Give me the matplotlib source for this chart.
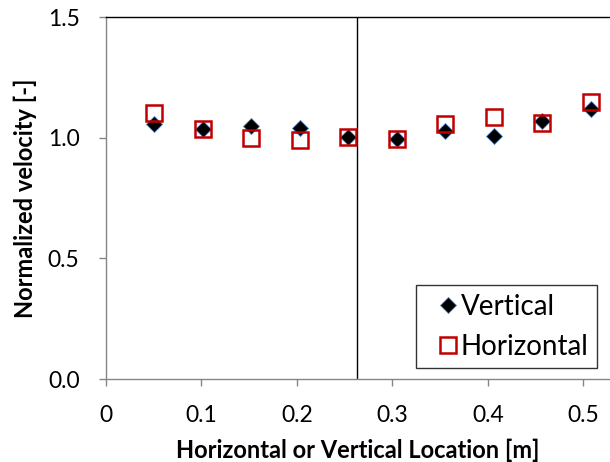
import numpy as np
import matplotlib.pyplot as plt

plt.rcParams['font.family'] = ['Lato', 'DejaVu Sans']

# measurement positions [m]
location = [0.0508, 0.1016, 0.1524, 0.2032, 0.254, 0.3048, 0.3556, 0.4064, 0.4572, 0.508]
# normalized velocities
vertical = [1.057, 1.035, 1.048, 1.039, 1.003, 0.996, 1.029, 1.008, 1.070, 1.118]
horizontal = [1.104, 1.035, 0.997, 0.989, 1.003, 0.996, 1.055, 1.087, 1.060, 1.149]
center_line = 0.263

xticks = [0, 0.1, 0.2, 0.3, 0.4, 0.5]
xticklabels = ['0', '0.1', '0.2', '0.3', '0.4', '0.5']
yticks = [0.0, 0.5, 1.0, 1.5]
yticklabels = ['0.0', '0.5', '1.0', '1.5']

fig = plt.figure(figsize=(6.10, 4.62), dpi=100)
ax = fig.add_axes([106 / 610, 1 - 379 / 462, 1 - 106 / 610, (379 - 17) / 462])

ax.axvline(center_line, color='black', lw=1.0, zorder=1)

ax.plot(location, vertical, linestyle='none', marker='D', markersize=8.5,
        markerfacecolor='black', markeredgecolor='#4f81bd', markeredgewidth=0.6,
        label='Vertical', zorder=3)
ax.plot(location, horizontal, linestyle='none', marker='s', markersize=11.5,
        markerfacecolor='none', markeredgecolor='#c00000', markeredgewidth=1.8,
        label='Horizontal', zorder=4)

ax.set_xlim(0, 0.528)
ax.set_ylim(0, 1.5)
ax.set_xticks(xticks)
ax.set_xticklabels(xticklabels)
ax.set_yticks(yticks)
ax.set_yticklabels(yticklabels)

gray = '#868686'
for s in ['left', 'bottom']:
    ax.spines[s].set_color(gray)
    ax.spines[s].set_linewidth(1.0)
ax.spines['top'].set_color('black')
ax.spines['top'].set_linewidth(1.0)
ax.spines['right'].set_visible(False)
ax.tick_params(axis='both', direction='out', color=gray, length=5, width=1.0,
               labelsize=16.5)
ax.tick_params(axis='x', pad=14)
ax.tick_params(axis='y', pad=14)

ax.set_xlabel('Horizontal or Vertical Location [m]', fontsize=17, fontweight='bold', labelpad=9)
ax.set_ylabel('Normalized velocity [-]', fontsize=17, fontweight='bold', labelpad=8)

leg = ax.legend(loc='lower right', bbox_to_anchor=((597 - 106) / 504, (379 - 368) / 362),
                fontsize=20, frameon=True, fancybox=False, edgecolor='black',
                handletextpad=-0.4, handlelength=1.7, borderpad=0.3, labelspacing=0.5,
                borderaxespad=0)
leg.get_frame().set_linewidth(1.0)

fig.savefig('out.png', dpi=100)
